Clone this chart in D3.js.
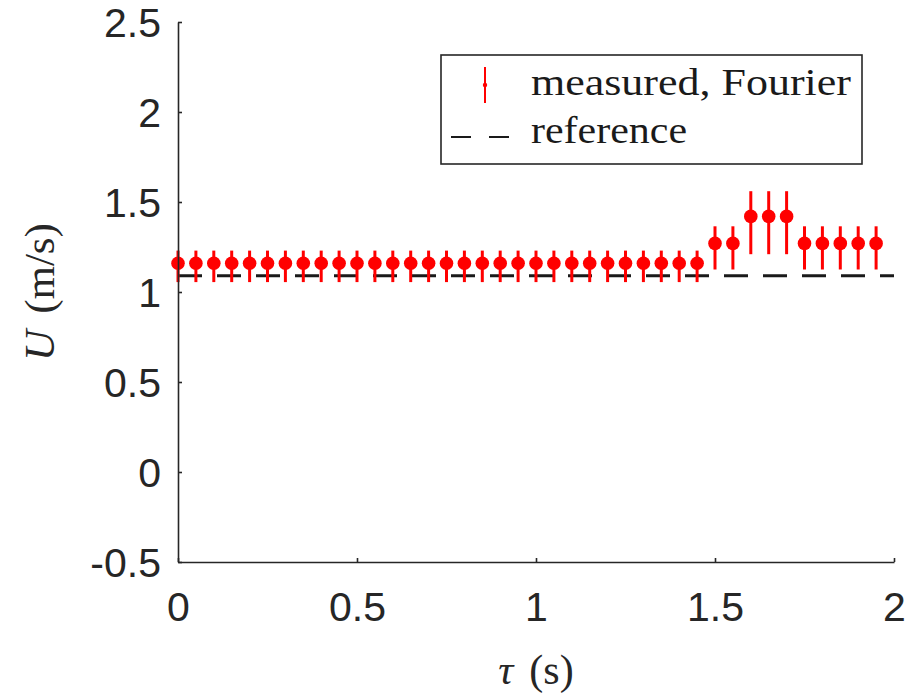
<!DOCTYPE html>
<html>
<head>
<meta charset="utf-8">
<script src="https://cdnjs.cloudflare.com/ajax/libs/d3/7.8.5/d3.min.js"></script>
<style>
  body { margin: 0; background: #fff; }
  svg { display: block; }
</style>
</head>
<body>
<div id="chart"></div>
<script>
// data
var tau = [0, 0.05, 0.1, 0.15, 0.2, 0.25, 0.3, 0.35, 0.4, 0.45,
           0.5, 0.55, 0.6, 0.65, 0.7, 0.75, 0.8, 0.85, 0.9, 0.95,
           1, 1.05, 1.1, 1.15, 1.2, 1.25, 1.3, 1.35, 1.4, 1.45,
           1.5, 1.55, 1.6, 1.65, 1.7, 1.75, 1.8, 1.85, 1.9, 1.95];
var U = [1.16, 1.16, 1.16, 1.16, 1.16, 1.16, 1.16, 1.16, 1.16, 1.16,
         1.16, 1.16, 1.16, 1.16, 1.16, 1.16, 1.16, 1.16, 1.16, 1.16,
         1.16, 1.16, 1.16, 1.16, 1.16, 1.16, 1.16, 1.16, 1.16, 1.16,
         1.27, 1.27, 1.42, 1.42, 1.42, 1.27, 1.27, 1.27, 1.27, 1.27];
var errUp = [0.07, 0.07, 0.07, 0.07, 0.07, 0.07, 0.07, 0.07, 0.07, 0.07,
             0.07, 0.07, 0.07, 0.07, 0.07, 0.07, 0.07, 0.07, 0.07, 0.07,
             0.07, 0.07, 0.07, 0.07, 0.07, 0.07, 0.07, 0.07, 0.07, 0.07,
             0.095, 0.095, 0.14, 0.14, 0.14, 0.095, 0.095, 0.095, 0.095, 0.095];
var errDown = [0.105, 0.105, 0.105, 0.105, 0.105, 0.105, 0.105, 0.105, 0.105, 0.105,
               0.105, 0.105, 0.105, 0.105, 0.105, 0.105, 0.105, 0.105, 0.105, 0.105,
               0.105, 0.105, 0.105, 0.105, 0.105, 0.105, 0.105, 0.105, 0.105, 0.105,
               0.145, 0.145, 0.21, 0.21, 0.21, 0.145, 0.145, 0.145, 0.145, 0.145];
var refU = 1.09;
var refTau = [0, 2];
var xTicks = [0, 0.5, 1, 1.5, 2];
var yTicks = [-0.5, 0, 0.5, 1, 1.5, 2, 2.5];
var legendLabels = ["measured, Fourier", "reference"];

var W = 910, H = 697;
var axisCol = "#262626";
var red = "#ff0000";

var svg = d3.select("#chart").append("svg")
    .attr("width", W)
    .attr("height", H);

var x = d3.scaleLinear().domain([0, 2]).range([178, 894]);
var y = d3.scaleLinear().domain([-0.5, 2.5]).range([562, 22]);

// reference dashed line
svg.append("line")
    .attr("x1", x(refTau[0]))
    .attr("x2", x(refTau[1]))
    .attr("y1", y(refU))
    .attr("y2", y(refU))
    .attr("stroke", "#1a1a1a")
    .attr("stroke-width", 3)
    .attr("stroke-dasharray", "24,15");

// error bars
var pts = tau.map(function(t, i) {
    return {t: t, u: U[i], up: errUp[i], dn: errDown[i]};
});

svg.selectAll(".ebar").data(pts).enter().append("line")
    .attr("class", "ebar")
    .attr("x1", function(d) { return x(d.t); })
    .attr("x2", function(d) { return x(d.t); })
    .attr("y1", function(d) { return y(d.u + d.up); })
    .attr("y2", function(d) { return y(d.u - d.dn); })
    .attr("stroke", red)
    .attr("stroke-width", 3);

svg.selectAll(".dot").data(pts).enter().append("circle")
    .attr("class", "dot")
    .attr("cx", function(d) { return x(d.t); })
    .attr("cy", function(d) { return y(d.u); })
    .attr("r", 6.8)
    .attr("fill", red);

// axes (ticks point inward, box off)
var fmt = function(d) { return String(d); };
var xAxis = svg.append("g")
    .attr("transform", "translate(0," + y(-0.5) + ")")
    .call(d3.axisBottom(x).tickValues(xTicks).tickSizeInner(-4).tickSizeOuter(0).tickFormat(fmt));
var yAxis = svg.append("g")
    .attr("transform", "translate(" + x(0) + ",0)")
    .call(d3.axisLeft(y).tickValues(yTicks).tickSizeInner(-4).tickSizeOuter(0).tickFormat(fmt));

[xAxis, yAxis].forEach(function(g) {
    g.select(".domain").attr("stroke", axisCol).attr("stroke-width", 1.6);
    g.selectAll(".tick line").attr("stroke", axisCol).attr("stroke-width", 1.6);
    g.selectAll(".tick text")
        .attr("fill", axisCol)
        .style("font-family", "'Liberation Sans', Arial, sans-serif")
        .style("font-size", "41px");
});
xAxis.selectAll(".tick text").attr("y", 30).attr("dy", "0.71em");
yAxis.selectAll(".tick text").attr("x", -17).attr("dy", "0.36em");

// axis labels
var serif = "'Liberation Serif', 'Times New Roman', serif";
var xl = svg.append("text")
    .attr("x", x(1))
    .attr("y", 684)
    .attr("text-anchor", "middle")
    .attr("fill", axisCol)
    .style("font-family", serif)
    .style("font-size", "42px");
xl.append("tspan").style("font-style", "italic").text("τ");
xl.append("tspan").attr("dx", 16).text("(s)");

var yl = svg.append("text")
    .attr("transform", "translate(54," + 292 + ") rotate(-90)")
    .attr("text-anchor", "middle")
    .attr("fill", axisCol)
    .style("font-family", serif)
    .style("font-size", "43px");
yl.append("tspan").style("font-style", "italic").text("U");
yl.append("tspan").attr("dx", 16).text("(m/s)");

// legend
var lg = svg.append("g");
lg.append("rect")
    .attr("x", 441).attr("y", 55)
    .attr("width", 421).attr("height", 109)
    .attr("fill", "#fff")
    .attr("stroke", axisCol)
    .attr("stroke-width", 1.6);
lg.append("line")
    .attr("x1", 485).attr("x2", 485)
    .attr("y1", 67).attr("y2", 103)
    .attr("stroke", red).attr("stroke-width", 2);
lg.append("circle")
    .attr("cx", 485).attr("cy", 85).attr("r", 2.2)
    .attr("fill", red);
lg.append("line")
    .attr("x1", 451).attr("x2", 511)
    .attr("y1", 137).attr("y2", 137)
    .attr("stroke", "#1a1a1a").attr("stroke-width", 2)
    .attr("stroke-dasharray", "20,18");
lg.selectAll(".lt").data(legendLabels).enter().append("text")
    .attr("class", "lt")
    .attr("x", 531)
    .attr("y", function(d, i) { return 95 + i * 48; })
    .attr("fill", "#1a1a1a")
    .attr("textLength", function(d, i) { return i === 0 ? 320 : 156; })
    .attr("lengthAdjust", "spacingAndGlyphs")
    .style("font-family", serif)
    .style("font-size", "38px")
    .text(function(d) { return d; });
</script>
</body>
</html>
